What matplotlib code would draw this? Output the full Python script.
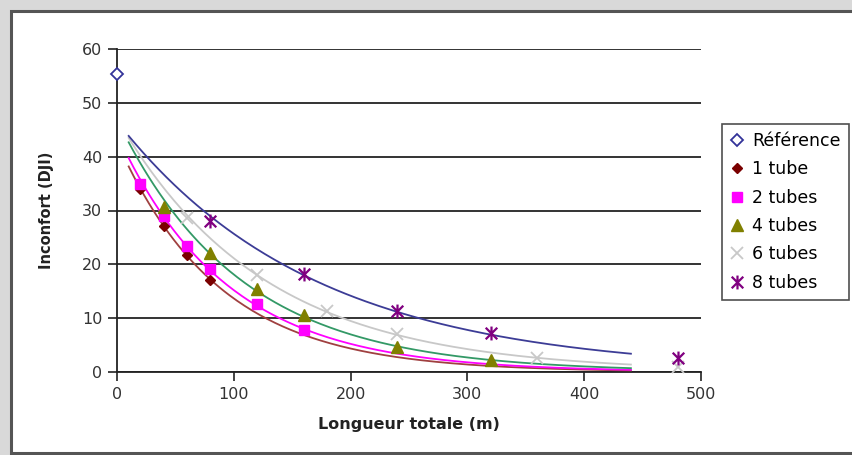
import numpy as np
import matplotlib
matplotlib.use("Agg")
import matplotlib.pyplot as plt
from matplotlib.path import Path
from matplotlib.patches import Rectangle

plt.rcParams['font.family'] = ['DejaVu Sans']

# Data
ref_x = [0]
ref_y = [55.3]

t1_x = [20, 40, 60, 80]
t1_y = [34.0, 27.1, 21.7, 17.1]

t2_x = [20, 40, 60, 80, 120, 160]
t2_y = [35.0, 28.9, 23.4, 19.1, 12.6, 7.8]

t4_x = [40, 80, 120, 160, 240, 320]
t4_y = [30.7, 22.1, 15.4, 10.6, 4.7, 2.2]

t6_x = [60, 120, 180, 240, 360, 480]
t6_y = [28.6, 18.0, 11.3, 7.0, 2.6, 1.0]

t8_x = [80, 160, 240, 320, 480]
t8_y = [28.0, 18.2, 11.3, 7.2, 2.6]

trend_range = (10, 440)

x_ticks = [0, 100, 200, 300, 400, 500]
y_ticks = [0, 10, 20, 30, 40, 50, 60]

W, H = 853, 455
fig = plt.figure(figsize=(W / 100, H / 100), dpi=100)
fig.patch.set_facecolor('#d9d9d9')

# chart area (white with dark frame)
fig.patches.append(Rectangle((11 / W, 1 - 453 / H), (W + 20) / W, (453 - 11) / H,
                             transform=fig.transFigure, facecolor='white',
                             edgecolor='#555555', linewidth=2.2, zorder=-5))

ax = fig.add_axes([117 / W, 1 - 372 / H, (701 - 117) / W, (372 - 49) / H])
ax.set_facecolor('none')
ax.set_zorder(2)

star = Path([(-1, -1), (1, 1), (-1, 1), (1, -1), (0, -1.2), (0, 1.2)],
            [Path.MOVETO, Path.LINETO, Path.MOVETO, Path.LINETO, Path.MOVETO, Path.LINETO])

series = [
    (t1_x, t1_y, dict(marker='D', markersize=5.5, color='#7a0000'), '#a04040', '1 tube'),
    (t2_x, t2_y, dict(marker='s', markersize=7.5, color='#ff00ff'), '#ff00ff', '2 tubes'),
    (t4_x, t4_y, dict(marker='^', markersize=9, color='#808000'), '#339966', '4 tubes'),
    (t6_x, t6_y, dict(marker='x', markersize=9, color='#c8c8c8', markeredgewidth=1.3), '#c8c8c8', '6 tubes'),
    (t8_x, t8_y, dict(marker=star, markersize=10, color='#800080', markeredgewidth=1.6), '#3c3c96', '8 tubes'),
]

handles = []
h = ax.plot(ref_x, ref_y, linestyle='none', marker='D', markersize=6.5,
            markerfacecolor='white', markeredgecolor='#333399', markeredgewidth=1.3,
            label='Référence', zorder=5, clip_on=False)[0]
handles.append(h)

xs = np.linspace(trend_range[0], trend_range[1], 200)
for x, y, mk, lc, lab in series:
    b, a = np.polyfit(np.array(x, float), np.log(np.array(y, float)), 1)
    ax.plot(xs, np.exp(a + b * xs), color=lc, linewidth=1.3, zorder=3)
    h = ax.plot(x, y, linestyle='none', label=lab, zorder=4, clip_on=False, **mk)[0]
    handles.append(h)

ax.set_xlim(0, 500)
ax.set_ylim(0, 60)
ax.set_xticks(x_ticks)
ax.set_yticks(y_ticks)
ax.grid(axis='y', color='#111111', linewidth=1.2)
ax.set_axisbelow(True)
for s in ['top', 'right']:
    ax.spines[s].set_visible(False)
for s in ['left', 'bottom']:
    ax.spines[s].set_color('#222222')
    ax.spines[s].set_linewidth(1.3)
ax.tick_params(direction='out', length=6.5, width=1.2, color='#222222',
               labelsize=11.5, labelcolor='#333333', pad=4)
ax.set_xlabel('Longueur totale (m)', fontsize=11.5, fontweight='bold', labelpad=11, color='#222222')
ax.set_ylabel('Inconfort (DJI)', fontsize=10.5, fontweight='bold', labelpad=20, color='#222222')

leg = fig.legend(handles=handles, loc='upper left',
                 bbox_to_anchor=(722 / W, 1 - 124 / H), fontsize=12.5,
                 frameon=True, fancybox=False, edgecolor='#222222',
                 handlelength=0.8, handletextpad=0.5, labelspacing=0.6,
                 borderpad=0.45, borderaxespad=0)
leg.get_frame().set_linewidth(1.2)

fig.savefig('out.png', dpi=100)
